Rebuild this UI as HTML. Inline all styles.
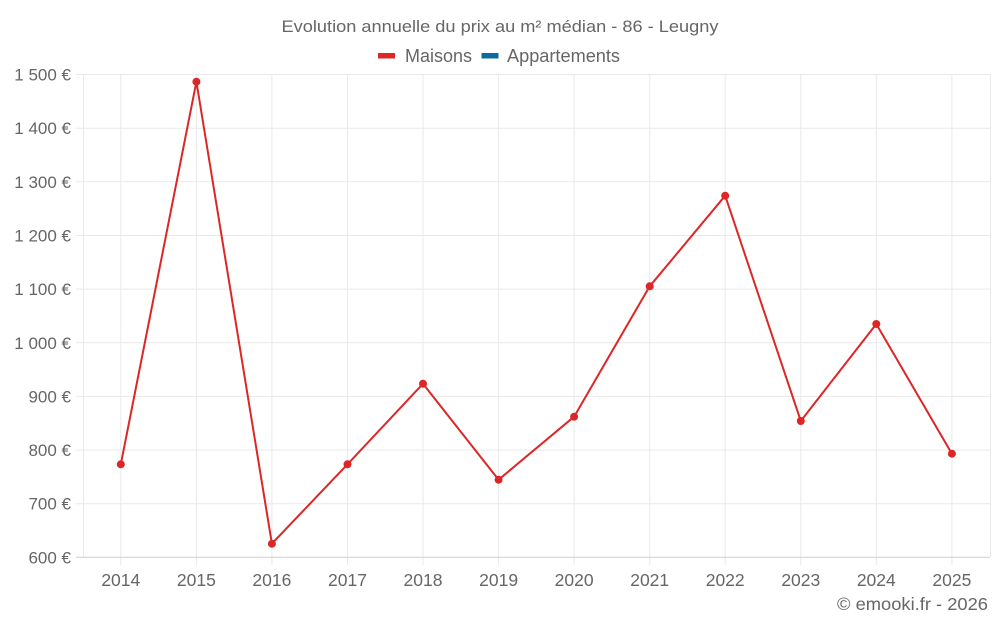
<!DOCTYPE html>
<html><head><meta charset="utf-8"><style>
html,body{margin:0;padding:0;background:#fff;}
svg{display:block;font-family:"Liberation Sans",Arial,sans-serif;}
</style></head><body>
<svg width="1000" height="625" viewBox="0 0 1000 625" xmlns="http://www.w3.org/2000/svg">
<rect width="1000" height="625" fill="#fff"/>
<text x="500" y="32" text-anchor="middle" font-size="17" fill="#666" textLength="437" lengthAdjust="spacingAndGlyphs">Evolution annuelle du prix au m² médian - 86 - Leugny</text>
<rect x="378" y="53" width="17" height="5.5" fill="#dd2626"/>
<text x="405" y="62" font-size="18" fill="#666" textLength="67" lengthAdjust="spacingAndGlyphs">Maisons</text>
<rect x="481.5" y="53" width="17" height="5.5" fill="#0b69a3"/>
<text x="507" y="62" font-size="18" fill="#666" textLength="113" lengthAdjust="spacingAndGlyphs">Appartements</text>
<g stroke="#e9e9e9" stroke-width="1">
<line x1="76" y1="74.5" x2="990" y2="74.5"/>
<line x1="76" y1="128.2" x2="990" y2="128.2"/>
<line x1="76" y1="181.8" x2="990" y2="181.8"/>
<line x1="76" y1="235.5" x2="990" y2="235.5"/>
<line x1="76" y1="289.1" x2="990" y2="289.1"/>
<line x1="76" y1="342.8" x2="990" y2="342.8"/>
<line x1="76" y1="396.4" x2="990" y2="396.4"/>
<line x1="76" y1="450.1" x2="990" y2="450.1"/>
<line x1="76" y1="503.7" x2="990" y2="503.7"/>
<line x1="120.8" y1="74" x2="120.8" y2="565"/>
<line x1="196.4" y1="74" x2="196.4" y2="565"/>
<line x1="271.9" y1="74" x2="271.9" y2="565"/>
<line x1="347.5" y1="74" x2="347.5" y2="565"/>
<line x1="423" y1="74" x2="423" y2="565"/>
<line x1="498.6" y1="74" x2="498.6" y2="565"/>
<line x1="574.1" y1="74" x2="574.1" y2="565"/>
<line x1="649.7" y1="74" x2="649.7" y2="565"/>
<line x1="725.2" y1="74" x2="725.2" y2="565"/>
<line x1="800.8" y1="74" x2="800.8" y2="565"/>
<line x1="876.3" y1="74" x2="876.3" y2="565"/>
<line x1="951.9" y1="74" x2="951.9" y2="565"/>
<line x1="990.5" y1="74" x2="990.5" y2="557"/>
<line x1="83.5" y1="74" x2="83.5" y2="557"/>
</g>
<line x1="76" y1="557.3" x2="990" y2="557.3" stroke="#d4d4d4" stroke-width="1.2"/>
<g font-size="17" fill="#666" text-anchor="end">
<text x="71" y="80.5">1 500 €</text>
<text x="71" y="134.2">1 400 €</text>
<text x="71" y="187.8">1 300 €</text>
<text x="71" y="241.5">1 200 €</text>
<text x="71" y="295.1">1 100 €</text>
<text x="71" y="348.8">1 000 €</text>
<text x="71" y="402.4">900 €</text>
<text x="71" y="456.1">800 €</text>
<text x="71" y="509.7">700 €</text>
<text x="71" y="563.4">600 €</text>
</g>
<g font-size="17.5" fill="#666" text-anchor="middle">
<text x="120.8" y="586">2014</text>
<text x="196.4" y="586">2015</text>
<text x="271.9" y="586">2016</text>
<text x="347.5" y="586">2017</text>
<text x="423" y="586">2018</text>
<text x="498.6" y="586">2019</text>
<text x="574.1" y="586">2020</text>
<text x="649.7" y="586">2021</text>
<text x="725.2" y="586">2022</text>
<text x="800.8" y="586">2023</text>
<text x="876.3" y="586">2024</text>
<text x="951.9" y="586">2025</text>
</g>
<polyline fill="none" stroke="#dd2626" stroke-width="2" stroke-linejoin="round" points="120.8,464.3 196.4,81.7 271.9,543.7 347.5,464.3 423,383.7 498.6,479.7 574.1,416.7 649.7,286.3 725.2,195.7 800.8,421 876.3,324 951.9,453.7"/>
<g fill="#dd2626">
<circle cx="120.8" cy="464.3" r="4"/>
<circle cx="196.4" cy="81.7" r="4"/>
<circle cx="271.9" cy="543.7" r="4"/>
<circle cx="347.5" cy="464.3" r="4"/>
<circle cx="423" cy="383.7" r="4"/>
<circle cx="498.6" cy="479.7" r="4"/>
<circle cx="574.1" cy="416.7" r="4"/>
<circle cx="649.7" cy="286.3" r="4"/>
<circle cx="725.2" cy="195.7" r="4"/>
<circle cx="800.8" cy="421" r="4"/>
<circle cx="876.3" cy="324" r="4"/>
<circle cx="951.9" cy="453.7" r="4"/>
</g>
<text x="988" y="610" text-anchor="end" font-size="17.5" fill="#666" textLength="151" lengthAdjust="spacingAndGlyphs">© emooki.fr - 2026</text>
</svg>
</body></html>
